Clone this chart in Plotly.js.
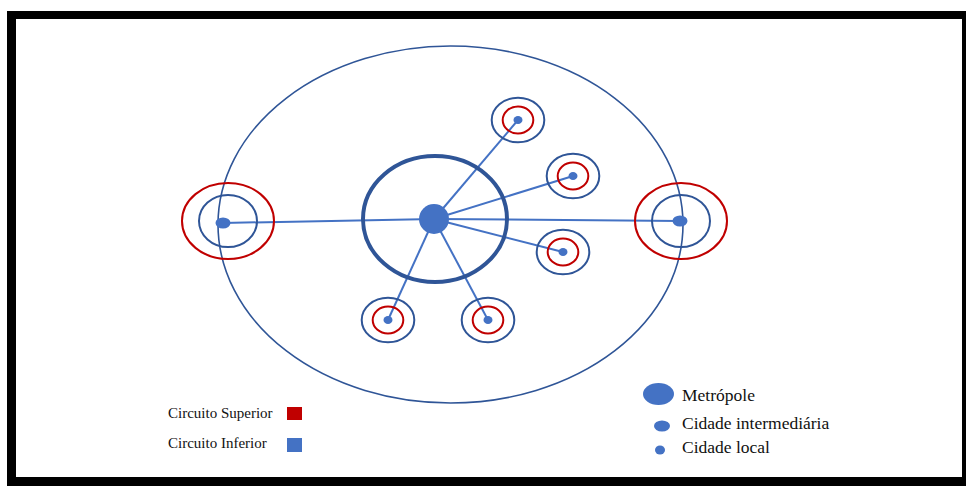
<!DOCTYPE html>
<html>
<head>
<meta charset="utf-8">
<script src="https://cdn.plot.ly/plotly-3.0.1.min.js"></script>
<style>html,body{margin:0;padding:0;background:#fff;}#chart{width:966px;height:486px;}</style>
</head>
<body>
<div id="chart"></div>
<script>
// ---- Diagram data (coordinates, in diagram units) ----
var hubName = ["Metrópole"];
var hubX = [434];
var hubY = [219];

var regionalNames = ["Oeste", "Leste"];
var regionalDotX = [223, 680];
var regionalDotY = [223, 221];
var regionalRingX = [228, 681];
var regionalRingY = [221, 221];

var localNames = ["A", "B", "C", "D", "E"];
var localX = [518, 573, 563, 388, 488];
var localY = [120, 176, 252, 320, 320];

var legendCircuitLabels = ["Circuito Superior", "Circuito Inferior"];
var legendCityLabels = ["Metrópole", "Cidade intermediária", "Cidade local"];

// ---- Styles ----
var RED = "#C00000", DARK = "#2F5597", MID = "#4472C4";

var shapes = [];
function ell(cx, cy, rx, ry, opts) {
  var s = {type: "circle", xref: "x", yref: "y",
    x0: cx - rx, x1: cx + rx, y0: cy - ry, y1: cy + ry,
    line: {color: opts.line || "rgba(0,0,0,0)", width: opts.width || 0},
    fillcolor: opts.fill || "rgba(0,0,0,0)", layer: opts.layer || "above"};
  shapes.push(s);
}
// frame
shapes.push({type: "rect", xref: "x", yref: "y", x0: 7, x1: 966, y0: 11, y1: 486,
  fillcolor: "#000", line: {width: 0}, layer: "below"});
shapes.push({type: "rect", xref: "x", yref: "y", x0: 16, x1: 962, y0: 19, y1: 477,
  fillcolor: "#fff", line: {width: 0}, layer: "below"});

// outer region ellipse
ell(450.5, 224.5, 232.5, 178.5, {line: DARK, width: 1.6});
// central thick ring
ell(435, 219, 72, 63, {line: DARK, width: 4});

// regional rings
for (var i = 0; i < regionalNames.length; i++) {
  ell(regionalRingX[i], regionalRingY[i], 46, 38, {line: RED, width: 2});
  ell(regionalRingX[i], regionalRingY[i], 29, 26, {line: DARK, width: 2});
}
// local rings
for (var j = 0; j < localNames.length; j++) {
  ell(localX[j], localY[j], 26.3, 22.3, {line: DARK, width: 2});
  ell(localX[j], localY[j], 15.3, 13.5, {line: RED, width: 2});
}

// links (traces)
var traces = [];
var targetsX = regionalDotX.concat(localX);
var targetsY = regionalDotY.concat(localY);
for (var k = 0; k < targetsX.length; k++) {
  traces.push({type: "scatter", mode: "lines", x: [hubX[0], targetsX[k]], y: [hubY[0], targetsY[k]],
    line: {color: MID, width: 2}, hoverinfo: "skip", showlegend: false});
}

// dots (drawn after lines via shapes above)
ell(hubX[0], hubY[0], 15, 15, {fill: MID});
for (var m = 0; m < regionalNames.length; m++) ell(regionalDotX[m], regionalDotY[m], 7.5, 5.5, {fill: MID});
for (var n = 0; n < localNames.length; n++) ell(localX[n], localY[n], 4.5, 4, {fill: MID});

// legend markers
shapes.push({type: "rect", xref: "x", yref: "y", x0: 287, x1: 302, y0: 407, y1: 420, fillcolor: RED, line: {width: 0}});
shapes.push({type: "rect", xref: "x", yref: "y", x0: 287, x1: 302, y0: 438, y1: 452, fillcolor: MID, line: {width: 0}});
ell(658.5, 394, 15.5, 11, {fill: MID});
ell(662, 426, 8, 5.5, {fill: MID});
ell(660, 450, 5, 4.5, {fill: MID});

var annotations = [];
var circY = [413, 443];
for (var a = 0; a < legendCircuitLabels.length; a++) {
  annotations.push({x: 166, y: circY[a], xref: "x", yref: "y", text: legendCircuitLabels[a],
    showarrow: false, xanchor: "left", yanchor: "middle",
    font: {family: "Liberation Serif, Times New Roman, serif", size: 15, color: "#111"}});
}
var cityY = [395, 423, 447];
for (var b = 0; b < legendCityLabels.length; b++) {
  annotations.push({x: 680, y: cityY[b], xref: "x", yref: "y", text: legendCityLabels[b],
    showarrow: false, xanchor: "left", yanchor: "middle",
    font: {family: "Liberation Serif, Times New Roman, serif", size: 17.5, color: "#111"}});
}

var layout = {
  width: 966, height: 486,
  margin: {l: 0, r: 0, t: 0, b: 0, pad: 0},
  paper_bgcolor: "#fff", plot_bgcolor: "rgba(0,0,0,0)",
  xaxis: {range: [0, 966], visible: false, fixedrange: true},
  yaxis: {range: [486, 0], visible: false, fixedrange: true},
  showlegend: false,
  shapes: shapes,
  annotations: annotations
};
Plotly.newPlot("chart", traces, layout, {staticPlot: true, displayModeBar: false});
</script>
</body>
</html>
